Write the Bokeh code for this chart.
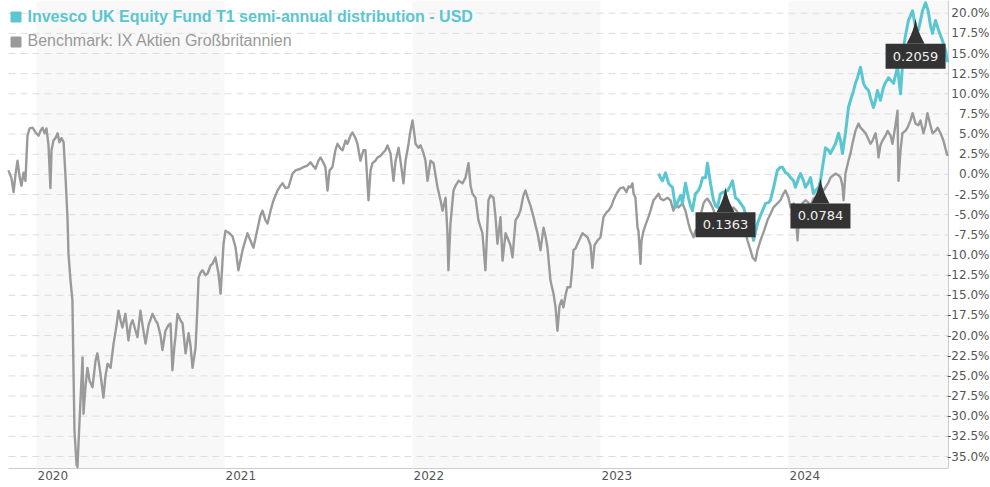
from bokeh.plotting import figure
from bokeh.models import (ColumnDataSource, BoxAnnotation, Range1d, Legend, LegendItem)
from bokeh.core.properties import value
from bokeh.embed import file_html
from bokeh.resources import INLINE

# ---------------- data (decimal years, % change) ----------------
bench_t = [
2019.851, 2019.867, 2019.878, 2019.888, 2019.899, 2019.910, 2019.920, 2019.931, 2019.941, 2019.952,
2019.963, 2019.979, 2019.995, 2020.011, 2020.021, 2020.032, 2020.043, 2020.053, 2020.064, 2020.074,
2020.080, 2020.090, 2020.101, 2020.112, 2020.122, 2020.133, 2020.144, 2020.154, 2020.165, 2020.170,
2020.181, 2020.191, 2020.197, 2020.202, 2020.213, 2020.218, 2020.229, 2020.239, 2020.245, 2020.250,
2020.261, 2020.271, 2020.282, 2020.298, 2020.314, 2020.324, 2020.340, 2020.356, 2020.367, 2020.378,
2020.394, 2020.410, 2020.426, 2020.436, 2020.447, 2020.457, 2020.473, 2020.489, 2020.500, 2020.511,
2020.527, 2020.537, 2020.553, 2020.564, 2020.580, 2020.596, 2020.617, 2020.633, 2020.644, 2020.660,
2020.670, 2020.686, 2020.702, 2020.713, 2020.723, 2020.734, 2020.739, 2020.750, 2020.766, 2020.777,
2020.793, 2020.809, 2020.819, 2020.830, 2020.846, 2020.856, 2020.862, 2020.872, 2020.883, 2020.899,
2020.910, 2020.926, 2020.936, 2020.952, 2020.968, 2020.979, 2020.995, 2021.005, 2021.021, 2021.043,
2021.059, 2021.074, 2021.096, 2021.122, 2021.138, 2021.154, 2021.176, 2021.191, 2021.202, 2021.218,
2021.229, 2021.245, 2021.261, 2021.282, 2021.298, 2021.309, 2021.324, 2021.340, 2021.362, 2021.378,
2021.404, 2021.420, 2021.441, 2021.457, 2021.473, 2021.484, 2021.500, 2021.511, 2021.527, 2021.537,
2021.548, 2021.559, 2021.574, 2021.590, 2021.601, 2021.617, 2021.628, 2021.644, 2021.654, 2021.670,
2021.681, 2021.697, 2021.707, 2021.723, 2021.739, 2021.750, 2021.766, 2021.777, 2021.787, 2021.803,
2021.814, 2021.830, 2021.840, 2021.856, 2021.867, 2021.883, 2021.899, 2021.910, 2021.926, 2021.936,
2021.952, 2021.963, 2021.979, 2021.989, 2022.000, 2022.011, 2022.016, 2022.032, 2022.043, 2022.059,
2022.069, 2022.080, 2022.096, 2022.112, 2022.133, 2022.149, 2022.160, 2022.176, 2022.186, 2022.191,
2022.202, 2022.218, 2022.229, 2022.245, 2022.266, 2022.282, 2022.298, 2022.309, 2022.319, 2022.335,
2022.351, 2022.372, 2022.388, 2022.404, 2022.415, 2022.431, 2022.441, 2022.452, 2022.468, 2022.479,
2022.495, 2022.511, 2022.521, 2022.532, 2022.548, 2022.564, 2022.574, 2022.590, 2022.601, 2022.617,
2022.628, 2022.644, 2022.654, 2022.665, 2022.681, 2022.697, 2022.707, 2022.718, 2022.734, 2022.750,
2022.761, 2022.771, 2022.782, 2022.793, 2022.803, 2022.814, 2022.824, 2022.840, 2022.851, 2022.856,
2022.867, 2022.878, 2022.894, 2022.904, 2022.920, 2022.931, 2022.947, 2022.957, 2022.968, 2022.984,
2023.000, 2023.016, 2023.032, 2023.043, 2023.059, 2023.069, 2023.085, 2023.096, 2023.106, 2023.122,
2023.138, 2023.149, 2023.160, 2023.170, 2023.176, 2023.186, 2023.197, 2023.202, 2023.213, 2023.218,
2023.229, 2023.239, 2023.255, 2023.266, 2023.282, 2023.293, 2023.309, 2023.319, 2023.335, 2023.356,
2023.372, 2023.388, 2023.399, 2023.415, 2023.436, 2023.452, 2023.468, 2023.479, 2023.495, 2023.505,
2023.521, 2023.532, 2023.548, 2023.559, 2023.569, 2023.585, 2023.596, 2023.612, 2023.622, 2023.638,
2023.654, 2023.670, 2023.691, 2023.707, 2023.723, 2023.745, 2023.761, 2023.782, 2023.798, 2023.809,
2023.824, 2023.835, 2023.851, 2023.867, 2023.888, 2023.904, 2023.920, 2023.941, 2023.957, 2023.973,
2023.984, 2024.000, 2024.011, 2024.027, 2024.037, 2024.048, 2024.059, 2024.074, 2024.090, 2024.106,
2024.117, 2024.133, 2024.154, 2024.170, 2024.186, 2024.197, 2024.213, 2024.223, 2024.239, 2024.250,
2024.266, 2024.277, 2024.287, 2024.293, 2024.303, 2024.319, 2024.330, 2024.340, 2024.356, 2024.372,
2024.383, 2024.399, 2024.410, 2024.420, 2024.436, 2024.447, 2024.463, 2024.473, 2024.479, 2024.489,
2024.500, 2024.516, 2024.527, 2024.543, 2024.553, 2024.569, 2024.580, 2024.585, 2024.596, 2024.606,
2024.622, 2024.633, 2024.649, 2024.660, 2024.676, 2024.691, 2024.702, 2024.718, 2024.729, 2024.739,
2024.755, 2024.766, 2024.782, 2024.793, 2024.809, 2024.824, 2024.835, 2024.846]

bench_v = [
0.5, -0.5, -2.2, -0.1, 1.7, -0.3, -1.4, 0.2, -0.8, 4.8,
5.7, 5.8, 5.2, 4.8, 5.4, 5.8, 5.1, 5.7, 3.6, -1.7,
3.0, 4.2, 4.5, 5.1, 4.0, 4.5, 4.0, -0.1, -5.5, -9.8,
-13.2, -15.6, -24.7, -31.8, -36.0, -36.3, -30.5, -25.6, -22.7, -29.7,
-26.2, -24.0, -25.6, -26.4, -23.1, -22.2, -24.7, -27.7, -25.0, -23.5,
-24.0, -21.0, -18.7, -16.9, -18.1, -19.0, -17.3, -20.6, -18.7, -18.1,
-19.4, -20.2, -16.9, -18.7, -21.0, -18.7, -17.3, -18.1, -18.5, -20.0,
-21.8, -19.4, -18.7, -18.5, -24.3, -21.2, -20.2, -17.3, -18.1, -18.5,
-22.2, -19.7, -21.2, -24.0, -21.5, -16.5, -12.8, -12.2, -11.9, -12.5,
-12.3, -11.3, -11.1, -10.3, -12.3, -14.8, -8.6, -7.0, -7.2, -7.7,
-9.1, -11.9, -9.4, -7.3, -8.2, -9.1, -6.7, -5.1, -4.5, -5.7,
-6.1, -4.5, -3.2, -2.0, -1.4, -1.1, -1.7, -1.6, 0.1, 0.5,
0.7, 0.9, 1.1, 1.5, 1.0, 0.7, 1.7, 2.1, 1.4, 0.9,
-2.0, 0.5, 0.9, 3.0, 3.8, 3.2, 3.0, 4.2, 3.8, 4.8,
5.2, 4.5, 3.8, 1.7, 3.0, 3.0, -3.2, 0.5, 1.4, 1.7,
2.1, 2.3, 2.6, 3.0, 3.6, 2.6, -0.8, 1.7, 3.3, 1.7,
-1.1, 1.7, 3.8, 5.4, 6.7, 4.8, 3.8, 3.3, 3.6, 2.6,
1.7, -0.8, 1.7, 1.4, -1.6, -3.2, -4.5, -2.9, -7.3, -11.9,
-6.1, -2.0, -1.4, -0.8, -1.1, -0.4, 1.4, -1.4, -2.4, -2.9,
-5.7, -7.3, -11.9, -3.2, -2.6, -2.9, -5.1, -8.6, -5.3, -10.7,
-7.3, -8.2, -8.8, -10.3, -5.7, -5.1, -4.5, -2.6, -2.0, -3.2,
-3.9, -5.3, -6.3, -7.3, -9.4, -6.6, -7.6, -9.1, -13.2, -14.8,
-16.5, -19.4, -16.3, -15.6, -16.5, -15.0, -14.0, -14.0, -11.3, -9.4,
-9.2, -8.6, -7.8, -7.3, -7.6, -7.8, -8.8, -11.6, -8.8, -8.2,
-7.8, -5.3, -4.7, -4.5, -3.9, -3.2, -2.4, -2.0, -1.7, -1.6,
-2.2, -1.5, -1.6, -1.1, -2.4, -2.9, -6.6, -7.0, -11.1, -8.2,
-7.0, -6.3, -5.3, -4.5, -3.2, -2.9, -2.4, -3.0, -3.2, -2.9,
-3.2, -4.5, -3.6, -4.1, -3.6, -4.5, -6.1, -7.0, -7.8, -7.0,
-6.6, -5.1, -3.6, -3.2, -3.0, -3.6, -4.1, -5.1, -5.7, -6.0,
-5.5, -6.3, -5.1, -4.1, -4.5, -5.3, -6.3, -8.2, -9.4, -10.3,
-10.7, -9.4, -8.2, -7.2, -5.7, -4.9, -4.1, -3.6, -3.2, -2.4,
-2.0, -2.9, -4.1, -3.6, -4.5, -8.2, -4.5, -3.6, -3.2, -3.5,
-3.9, -3.0, -2.6, -2.4, -2.0, -1.6, -1.0, -0.4, -0.1, 0.1,
-0.1, -0.4, -1.4, -3.2, 0.1, 1.7, 2.6, 3.8, 5.4, 6.3,
5.8, 5.4, 5.1, 4.6, 3.8, 4.2, 5.1, 3.6, 2.1, 3.6,
4.2, 4.8, 5.4, 4.8, 3.8, 6.1, 7.9, -0.8, 3.0, 5.1,
5.4, 5.8, 6.7, 7.6, 6.3, 6.1, 6.7, 5.1, 6.1, 7.6,
6.1, 5.1, 5.4, 5.8, 5.1, 4.2, 3.2, 2.3]

fund_t = [
2023.309, 2023.319, 2023.330, 2023.346, 2023.362, 2023.372, 2023.383, 2023.399, 2023.415, 2023.426,
2023.436, 2023.452, 2023.468, 2023.479, 2023.489, 2023.505, 2023.521, 2023.532, 2023.543, 2023.559,
2023.569, 2023.585, 2023.601, 2023.612, 2023.622, 2023.638, 2023.654, 2023.676, 2023.691, 2023.702,
2023.718, 2023.734, 2023.745, 2023.761, 2023.771, 2023.787, 2023.798, 2023.814, 2023.824, 2023.835,
2023.851, 2023.862, 2023.878, 2023.894, 2023.904, 2023.920, 2023.931, 2023.941, 2023.957, 2023.968,
2023.984, 2023.995, 2024.011, 2024.027, 2024.037, 2024.053, 2024.064, 2024.080, 2024.090, 2024.106,
2024.117, 2024.133, 2024.144, 2024.160, 2024.170, 2024.181, 2024.197, 2024.213, 2024.223, 2024.239,
2024.250, 2024.266, 2024.277, 2024.287, 2024.303, 2024.319, 2024.330, 2024.346, 2024.356, 2024.367,
2024.383, 2024.399, 2024.410, 2024.426, 2024.436, 2024.452, 2024.463, 2024.473, 2024.489, 2024.505,
2024.516, 2024.532, 2024.543, 2024.559, 2024.569, 2024.580, 2024.596, 2024.606, 2024.612, 2024.622,
2024.638, 2024.649, 2024.660, 2024.676, 2024.691, 2024.702, 2024.713, 2024.729, 2024.739, 2024.745,
2024.755, 2024.766, 2024.782, 2024.798, 2024.809, 2024.819, 2024.835, 2024.846]

fund_v = [
0.1, -0.4, -0.8, 0.2, -1.1, -1.4, -1.6, -4.1, -3.2, -2.6,
-3.6, -1.1, -2.9, -3.9, -4.5, -2.4, -2.0, -1.4, -0.4, -0.4,
1.4, -1.1, -3.2, -3.9, -4.1, -2.4, -2.2, -2.0, -1.4, -0.8,
-2.9, -3.2, -3.6, -4.1, -4.9, -5.5, -6.1, -8.2, -7.2, -6.1,
-5.1, -4.5, -3.6, -3.5, -3.2, -1.7, -0.5, 0.5, 0.9, 0.9,
0.2, 0.1, -0.4, -0.8, -1.6, -0.5, 0.1, -0.8, -1.6, -1.0,
-0.4, -2.4, -2.0, -1.6, -0.8, 0.9, 3.3, 3.0, 2.6, 3.3,
3.8, 5.1, 4.2, 2.6, 5.1, 8.3, 9.2, 10.4, 11.3, 12.0,
13.3, 11.3, 10.8, 10.4, 9.5, 8.3, 9.2, 10.4, 9.2, 10.8,
11.4, 12.0, 11.7, 11.3, 12.3, 13.3, 10.0, 13.5, 15.7, 17.2,
19.1, 19.7, 20.3, 18.2, 17.9, 19.1, 20.3, 21.3, 20.6, 20.0,
18.5, 17.5, 19.1, 17.9, 17.2, 16.6, 15.4, 13.9]

div_t = [2023.665, 2024.170, 2024.676]
div_tip = [-1.6, -0.5, 19.3]
div_labels = ["0.1363", "0.0784", "0.2059"]

year_ticks = [2020, 2021, 2022, 2023, 2024]
year_labels = ["2020", "2021", "2022", "2023", "2024"]
shade_years = [2020, 2022, 2024]
y_ticks = [-35.0, -32.5, -30.0, -27.5, -25.0, -22.5, -20.0, -17.5, -15.0, -12.5, -10.0,
           -7.5, -5.0, -2.5, 0.0, 2.5, 5.0, 7.5, 10.0, 12.5, 15.0, 17.5, 20.0]

FUND_NAME = "Invesco UK Equity Fund T1 semi-annual distribution - USD"
BENCH_NAME = "Benchmark: IX Aktien Großbritannien"

# ---------------- layout / style ----------------
FUND_C = "#5ac6d0"
BENCH_C = "#9a9a9a"
W, H = 990, 487
# canvas-wide view range; the plotting area ends at the axis lines below
XL, XR = 2019.8085, 2025.0745
YT, YB = 21.576, -38.846
AX_L, AX_R, AX_B = 2019.851, 2024.851, -36.49
PX_X = (XR - XL) / W
PX_Y = (YT - YB) / H

p = figure(width=W, height=H, x_range=Range1d(XL, XR), y_range=Range1d(YB, YT),
           output_backend="svg", toolbar_location=None,
           x_axis_location=None, y_axis_location=None,
           min_border_left=0, min_border_right=0, min_border_top=0, min_border_bottom=0)
p.outline_line_color = None
p.grid.visible = False
p.background_fill_color = "white"

# alternating year bands
for yr in shade_years:
    p.add_layout(BoxAnnotation(left=yr, right=min(yr + 1, AX_R), bottom=AX_B,
                               fill_color="#f8f8f8", fill_alpha=1.0, line_color=None,
                               level="image"))

# dashed horizontal grid
p.segment(x0=AX_L, x1=AX_R, y0=y_ticks, y1=y_ticks, line_color="#dddddd",
          line_dash="7 5", line_width=1)

# axis lines
p.segment(x0=[AX_L, AX_R], x1=[AX_R, AX_R], y0=[AX_B, AX_B], y1=[AX_B, YT],
          line_color="#cccccc", line_width=1)

# tick labels
p.text(x=AX_R, y=y_ticks, text=[f"{t:.1f}%" for t in y_ticks], x_offset=41,
       text_align="right", text_baseline="middle", text_font=value("DejaVu Sans"),
       text_font_size="12px", text_color="#555555")
p.text(x=year_ticks, y=AX_B - 2 * PX_Y, text=year_labels, x_offset=1,
       text_align="left", text_baseline="top", text_font=value("DejaVu Sans"),
       text_font_size="12px", text_color="#555555")

# lines
p.line(bench_t, bench_v, line_color=BENCH_C, line_width=2.4, line_join="round")
p.line(fund_t, fund_v, line_color=FUND_C, line_width=3, line_join="round")

# dividend markers
tree = [(0, 0), (1.5, 7), (3, 12), (5, 17), (9, 25), (-9, 25), (-5, 17), (-3, 12), (-1.5, 7)]
xs = [[t + dx * PX_X for dx, dy in tree] for t in div_t]
ys = [[v - dy * PX_Y for dx, dy in tree] for v in div_tip]
p.patches(xs, ys, fill_color="#333333", line_color=None)
box_y = [v - 37.5 * PX_Y for v in div_tip]
p.rect(x=div_t, y=box_y, width=60, height=25, width_units="screen", height_units="screen",
       fill_color="#333333", line_color=None)
p.text(x=div_t, y=box_y, text=div_labels, text_align="center", text_baseline="middle",
       text_font=value("DejaVu Sans"), text_font_size="13px", text_color="#f0f0f0")

# legends (square swatches)
nan = float("nan")
sq_f = p.scatter(x=[nan], y=[nan], marker="square", size=10, color=FUND_C)
sq_b = p.scatter(x=[nan], y=[nan], marker="square", size=10, color=BENCH_C)
for item_r, name, col, style, loc in ((sq_f, FUND_NAME, FUND_C, "bold", (2.5, 458)),
                                      (sq_b, BENCH_NAME, "#999999", "normal", (2.5, 433.5))):
    leg = Legend(items=[LegendItem(label=name, renderers=[item_r])], location=loc,
                 label_text_font="Liberation Sans", label_text_font_size="16px",
                 label_text_font_style=style, label_text_color=col,
                 glyph_width=25, glyph_height=25, label_height=18, label_standoff=0,
                 padding=0, margin=0, spacing=0,
                 background_fill_alpha=0, border_line_color=None)
    p.add_layout(leg)

open("out.html", "w").write(file_html(p, INLINE))
